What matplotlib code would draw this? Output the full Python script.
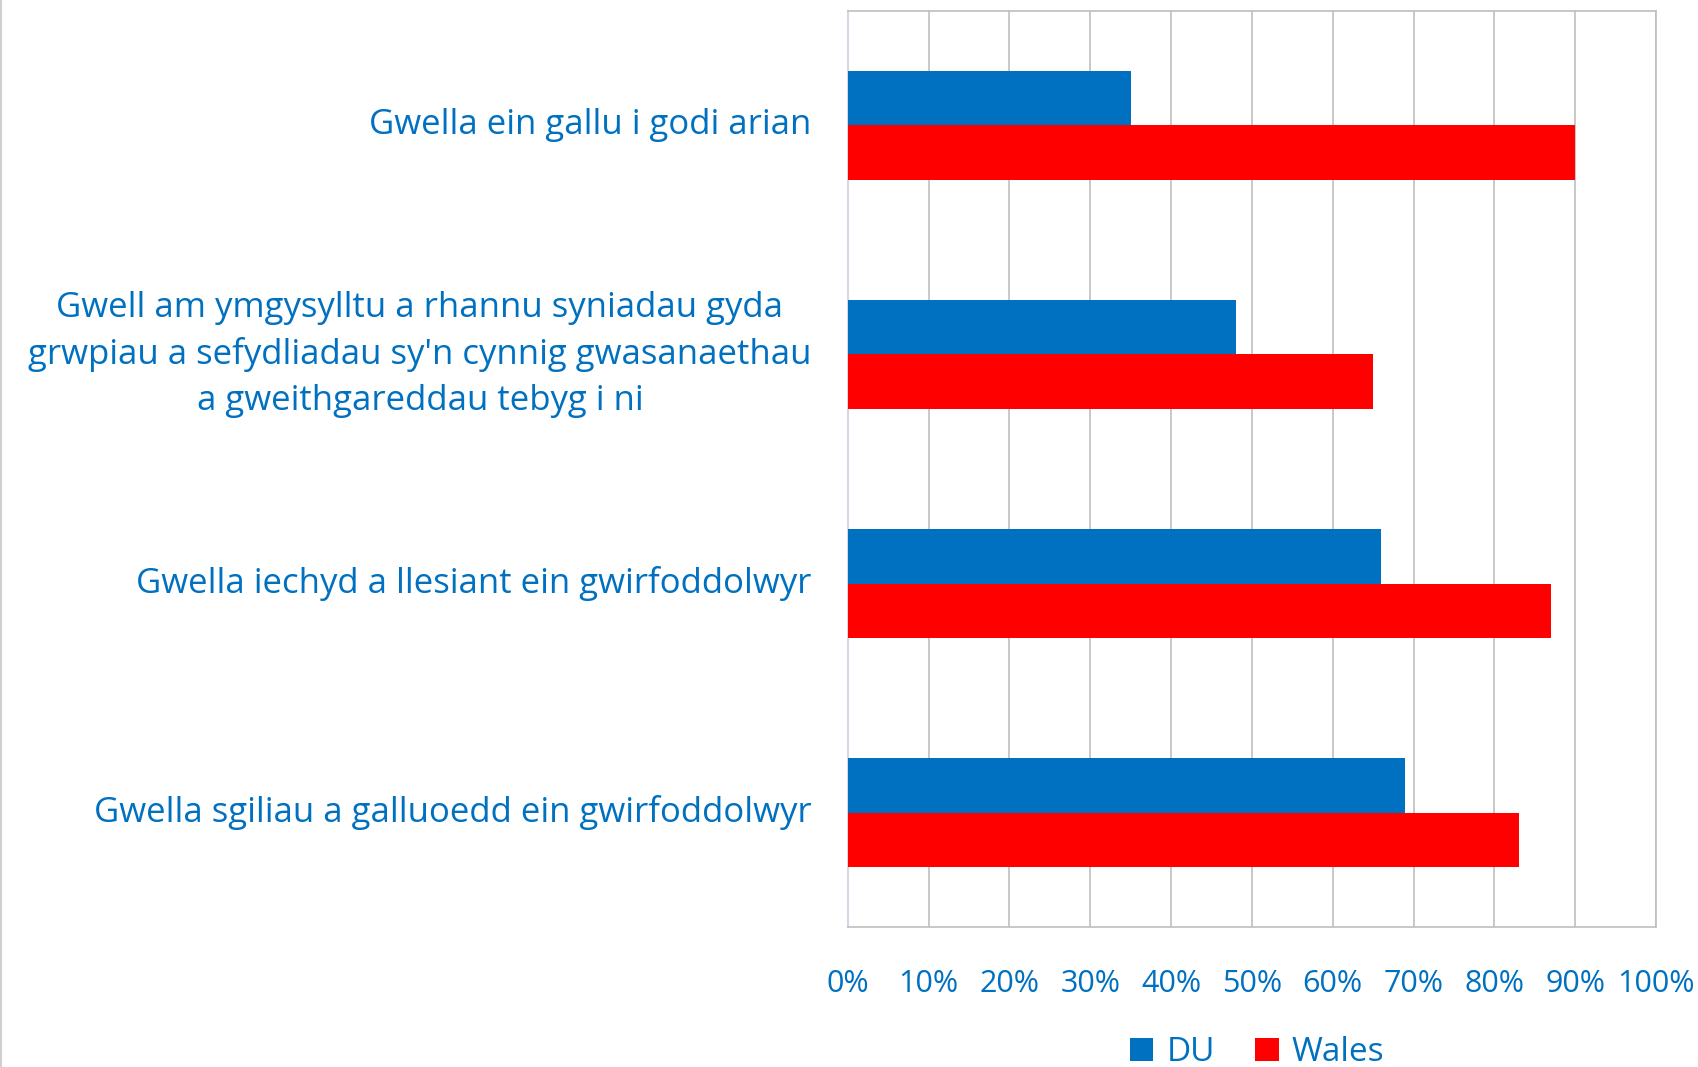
import matplotlib
matplotlib.use("Agg")
import matplotlib.pyplot as plt
import numpy as np
from matplotlib.patches import Patch
from matplotlib.lines import Line2D

categories = [
    "Gwella ein gallu i godi arian",
    "Gwell am ymgysylltu a rhannu syniadau gyda\ngrwpiau a sefydliadau sy'n cynnig gwasanaethau\na gweithgareddau tebyg i ni",
    "Gwella iechyd a llesiant ein gwirfoddolwyr",
    "Gwella sgiliau a galluoedd ein gwirfoddolwyr",
]
du_values = [35, 48, 66, 69]
wales_values = [90, 65, 87, 83]
series_names = ["DU", "Wales"]
x_ticks = [0, 10, 20, 30, 40, 50, 60, 70, 80, 90, 100]

text_color = "#0070C0"
du_color = "#0070C0"
wales_color = "#FF0000"
grid_color = "#BFBFBF"

plt.rcParams["font.family"] = ["Open Sans", "DejaVu Sans"]

fig = plt.figure(figsize=(16.99, 10.67), dpi=100)
ax = fig.add_axes([0.499, 0.1312, 0.4757, 0.8585])

y = np.arange(len(categories))
h = 0.24
ax.barh(y - h / 2, du_values, height=h, color=du_color, label=series_names[0], zorder=3)
ax.barh(y + h / 2, wales_values, height=h, color=wales_color, label=series_names[1], zorder=3)

ax.set_xlim(0, 100)
ax.set_ylim(len(categories) - 0.5, -0.5)
ax.set_xticks(x_ticks)
ax.set_xticklabels([f"{t}%" for t in x_ticks], fontsize=22, color=text_color)
ax.set_yticks(y)
ax.set_yticklabels(categories, fontsize=25, color=text_color, va="center",
                   multialignment="center", linespacing=1.45)
ax.tick_params(axis="both", length=0)
ax.tick_params(axis="x", pad=30)
ax.tick_params(axis="y", pad=26)

ax.grid(axis="x", color=grid_color, linewidth=1.2, zorder=0)
for side in ["top", "right", "bottom"]:
    ax.spines[side].set_color(grid_color)
    ax.spines[side].set_linewidth(1.2)
ax.spines["left"].set_color("#D6D6E6")
ax.spines["left"].set_linewidth(1.5)

handles = [Patch(facecolor=du_color), Patch(facecolor=wales_color)]
fig.legend(handles, series_names, loc="lower center", bbox_to_anchor=(0.74, -0.03),
           ncol=2, frameon=False, fontsize=24, labelcolor=text_color,
           handlelength=0.7, handleheight=0.7, handletextpad=0.4, columnspacing=1.2)

# thin border on the left edge
fig.add_artist(Line2D([0.0005, 0.0005], [0, 1], color="#D0D0D0", linewidth=1.5, transform=fig.transFigure))

fig.savefig("out.png", dpi=100)
